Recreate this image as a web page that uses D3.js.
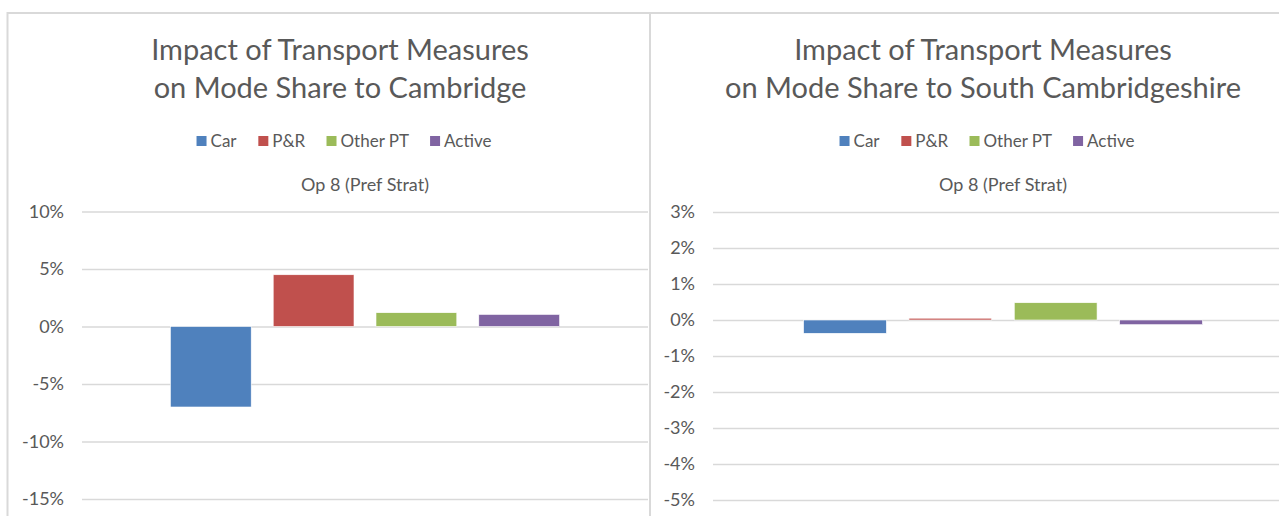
<!DOCTYPE html>
<html>
<head>
<meta charset="utf-8">
<script src="https://cdn.jsdelivr.net/npm/d3@7"></script>
<style>
  body { margin: 0; background: #fff; }
  text { font-family: Lato, "Open Sans", sans-serif; fill: #595959; }
</style>
</head>
<body>
<svg id="chart" width="1279" height="516"></svg>
<script>
// 데이터
var series = ["Car", "P&R", "Other PT", "Active"];
var colors = ["#4f81bd", "#c0504d", "#9bbb59", "#8064a2"];
var category = "Op 8 (Pref Strat)";

var cambridgeValues = [-7.0, 4.5, 1.2, 1.05];
var southCambsValues = [-0.37, 0.05, 0.48, -0.13];

var cambridgeTicks = [10, 5, 0, -5, -10, -15];
var southCambsTicks = [3, 2, 1, 0, -1, -2, -3, -4, -5];

var cambridgeTitle = ["Impact of Transport Measures", "on Mode Share to Cambridge"];
var southCambsTitle = ["Impact of Transport Measures", "on Mode Share to South Cambridgeshire"];

var svg = d3.select("#chart");

// 패널 테두리
svg.append("path")
   .attr("d", "M7.5,520 V13 H1290")
   .attr("fill", "none").attr("stroke", "#d9d9d9").attr("stroke-width", 2);
svg.append("line")
   .attr("x1", 650).attr("x2", 650).attr("y1", 13).attr("y2", 520)
   .attr("stroke", "#d9d9d9").attr("stroke-width", 2);

// 차트 하나 그리기
function drawPanel(opt){
  var g = svg.append("g");

  //제목
  g.append("text")
   .attr("x", opt.titleX).attr("y", 60)
   .attr("text-anchor", "middle")
   .attr("font-size", 29)
   .text(opt.title[0]);
  g.append("text")
   .attr("x", opt.titleX).attr("y", 98)
   .attr("text-anchor", "middle")
   .attr("font-size", 29)
   .text(opt.title[1]);

  var x = d3.scaleBand()
            .domain(series)
            .range([opt.left, opt.right])
            .paddingInner(0.214)
            .paddingOuter(0.86);

  var y = d3.scaleLinear()
            .domain(opt.domain)
            .range([opt.bottom, opt.top]);

  //축 (격자선 + 눈금 라벨)
  var axis = d3.axisLeft(y)
               .tickValues(opt.ticks)
               .tickSize(-(opt.right - opt.left))
               .tickPadding(18)
               .tickFormat(function(d){ return d + "%"; });

  var ax = g.append("g")
            .attr("transform", "translate(" + opt.left + ",0)")
            .call(axis);
  ax.select(".domain").remove();
  ax.selectAll(".tick line").attr("stroke", "#d9d9d9").attr("stroke-width", 1.3);
  ax.selectAll(".tick text")
    .attr("font-size", 18)
    .attr("fill", "#595959")
    .attr("font-family", "Lato, 'Open Sans', sans-serif");

  //카테고리 라벨
  g.append("text")
   .attr("x", (opt.left + opt.right) / 2).attr("y", 191)
   .attr("text-anchor", "middle")
   .attr("font-size", 18)
   .text(category);

  //막대
  g.selectAll("rect.bar")
   .data(opt.values)
   .enter()
   .append("rect")
   .attr("class", "bar")
   .attr("x", function(d, i){ return x(series[i]); })
   .attr("width", x.bandwidth())
   .attr("y", function(d){ return y(Math.max(0, d)); })
   .attr("height", function(d){ return Math.abs(y(d) - y(0)); })
   .attr("fill", function(d, i){ return colors[i]; })
   .attr("stroke", "#fff")
   .attr("stroke-width", 0.6);

  //범례
  var leg = g.append("g");
  var items = leg.selectAll("g").data(series).enter().append("g");
  items.append("rect")
       .attr("width", 10).attr("height", 10)
       .attr("y", 136)
       .attr("fill", function(d, i){ return colors[i]; });
  items.append("text")
       .attr("x", 14).attr("y", 146.5)
       .attr("font-size", 17)
       .text(function(d){ return d; });
  var pos = 0;
  items.each(function(){
    var w = this.getBBox().width;
    d3.select(this).attr("transform", "translate(" + pos + ",0)");
    pos += w + 21;
  });
  pos -= 21;
  leg.attr("transform", "translate(" + (opt.legendX - pos / 2) + ",0)");
}

drawPanel({
  title: cambridgeTitle, titleX: 340, legendX: 344,
  values: cambridgeValues, ticks: cambridgeTicks, domain: [-15, 10],
  left: 82, right: 648, top: 211.5, bottom: 499
});

drawPanel({
  title: southCambsTitle, titleX: 983, legendX: 987,
  values: southCambsValues, ticks: southCambsTicks, domain: [-5, 3],
  left: 713, right: 1293, top: 212, bottom: 500
});
</script>
</body>
</html>
